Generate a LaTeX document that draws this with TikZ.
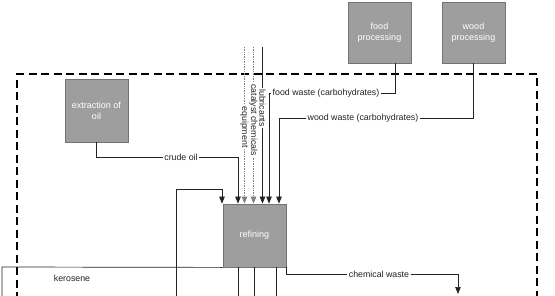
\documentclass[tikz,border=0pt]{standalone}
\usepackage{fontspec}
\setmainfont{Liberation Sans}
\usetikzlibrary{arrows.meta}
\definecolor{boxfill}{RGB}{158,158,158}
\definecolor{boxedge}{RGB}{115,115,115}
\definecolor{ink}{RGB}{35,35,35}
\begin{document}
\begin{tikzpicture}[x=1pt,y=-1pt,
  process/.style={draw=boxedge,fill=boxfill,line width=0.8pt,
    minimum width=63pt,minimum height=63pt,inner sep=0pt,
    text=white,align=center,font=\fontsize{9}{11}\selectfont},
  flow/.style={draw=ink,line width=0.7pt},
  flowarr/.style={flow,-{Triangle[width=5.5pt,length=7pt]}},
  dotflow/.style={draw=gray,line width=0.7pt,densely dotted,-{Triangle[width=5.5pt,length=7pt]}},
  lbl/.style={fill=white,inner sep=1.5pt,text=ink,font=\fontsize{8.8}{10}\selectfont},
  vlbl/.style={lbl,rotate=-90,inner xsep=1.5pt,inner ysep=0.3pt},
  boundary/.style={draw=black,line width=1.1pt,dash pattern=on 8pt off 4.5pt}]
\useasboundingbox (0,0) rectangle (555,295);

% system boundary
\draw[boundary] (17,300) -- (17,74) -- (537,74) -- (537,300);

% processes
\node[process] (ext)  at (96.5,110.5) {extraction of\\oil};
\node[process,minimum height=61pt] (food) at (379.5,32.5) {food\\processing};
\node[process,minimum height=61pt] (wood) at (473.5,32.5) {wood\\processing};
\node[process] (ref)  at (254.5,235.5) {refining};

% turning points and loose ends
\coordinate (crude) at (238,157);
\coordinate (fw) at (269,93);
\coordinate (ww) at (279,118);
\coordinate (eqTop) at (244.5,47);
\coordinate (caTop) at (253.5,47);
\coordinate (luTop) at (262.5,47);
\coordinate (loopTop) at (222,189);
\coordinate (loopBot) at (176,300);
\coordinate (kero) at (2,267);
\coordinate (keroBot) at (2,300);
\coordinate (cw) at (458,274);
\coordinate (cwEnd) at (458,294);

% inputs to refining
\draw[flowarr] (ext.south) |- (crude) -- (crude |- ref.north);
\node[lbl] at (181,157) {crude oil};

\draw[dotflow] (eqTop) -- (eqTop |- ref.north);
\node[vlbl] at (244.5,127) {equipment};
\draw[dotflow] (caTop) -- (caTop |- ref.north);
\node[vlbl] at (253.5,120) {catalyst chemicals};
\draw[flowarr] (luTop) -- (luTop |- ref.north);
\node[vlbl] at (262.5,108) {lubricants};

\draw[flowarr] ([xshift=15.5pt]food.south) |- (fw) -- (fw |- ref.north);
\node[lbl,anchor=west] at (271,93) {food waste (carbohydrates)};

\draw[flowarr] (wood.south) |- (ww) -- (ww |- ref.north);
\node[lbl] at (363,118) {wood waste (carbohydrates)};

\draw[flowarr] (loopBot) |- (loopTop) -- (loopTop |- ref.north);

% outputs of refining
\draw[flow] (ref.south west) -- (kero) -- (keroBot);
\node[lbl] at (72,278) {kerosene};

\draw[flow] (ref.south -| 238,0) -- (238,300);
\draw[flow] (ref.south -| 254,0) -- (254,300);
\draw[flow] (ref.south -| 276,0) -- (276,300);

\draw[flowarr] (ref.south east) |- (cw) -- (cwEnd);
\node[lbl] at (379,274) {chemical waste};
\end{tikzpicture}
\end{document}
